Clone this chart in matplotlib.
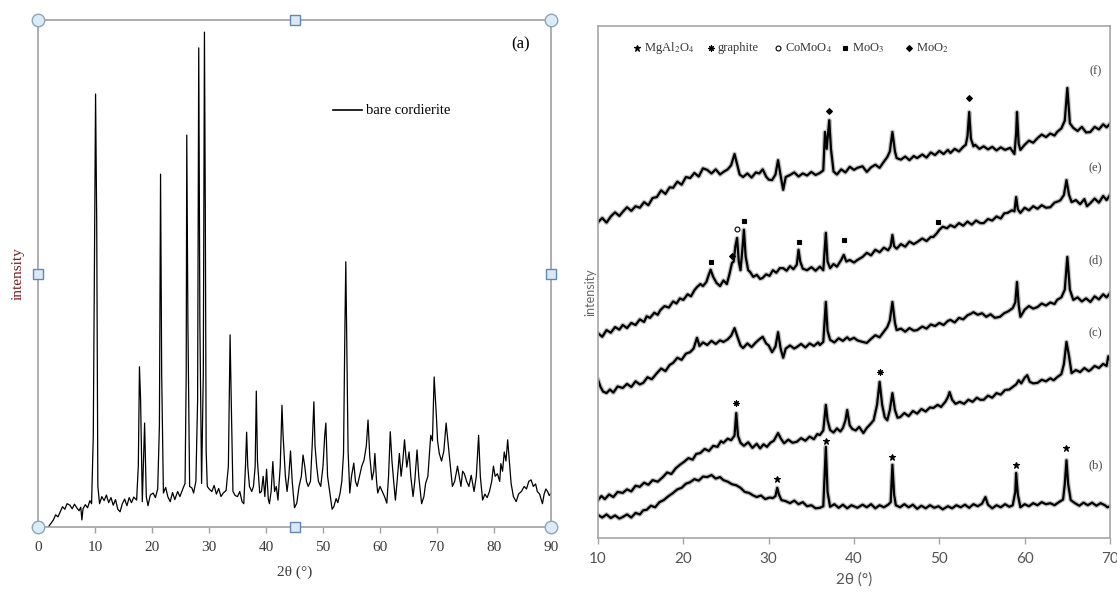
import matplotlib
matplotlib.use("Agg")
import matplotlib.pyplot as plt

# ---- panel (a): bare cordierite, (2theta, intensity) ----
bare_pts = [
    (1.8, 0.0), (2.2, 0.6), (2.7, 1.4), (3.1, 2.4), (3.5, 2.0), (3.9, 3.0), (4.3, 4.0), (4.7, 3.5),
    (5.1, 4.6), (5.6, 4.3), (6.0, 3.6), (6.4, 4.5), (6.8, 3.8), (7.2, 3.2), (7.5, 3.9), (7.7, 1.4),
    (7.9, 3.6), (8.3, 4.4), (8.7, 3.8), (9.1, 5.2), (9.4, 4.6), (9.7, 18.0), (10.1, 85.4), (10.3, 60.0),
    (10.5, 8.0), (10.8, 4.6), (11.2, 6.0), (11.6, 5.2), (12.0, 6.3), (12.4, 4.8), (12.8, 5.8), (13.2, 4.3),
    (13.6, 5.4), (14.0, 3.5), (14.4, 3.0), (14.8, 4.6), (15.2, 5.5), (15.6, 4.2), (16.0, 5.8), (16.4, 4.8),
    (16.8, 5.9), (17.3, 5.3), (17.6, 12.0), (17.8, 31.6), (18.0, 25.0), (18.3, 5.0), (18.7, 20.5),
    (19.0, 6.0), (19.3, 4.2), (19.7, 6.3), (20.2, 6.7), (20.6, 5.8), (21.0, 7.5), (21.3, 20.0),
    (21.5, 69.6), (21.7, 30.0), (22.0, 6.7), (22.4, 7.8), (22.8, 5.9), (23.2, 5.0), (23.6, 6.8),
    (24.0, 5.4), (24.5, 7.0), (24.9, 6.0), (25.4, 7.5), (25.8, 8.6), (26.0, 30.0), (26.1, 77.3),
    (26.3, 40.0), (26.6, 8.0), (27.0, 7.7), (27.3, 6.7), (27.7, 9.0), (28.0, 25.0), (28.2, 94.5),
    (28.4, 40.0), (28.7, 8.6), (29.0, 30.0), (29.2, 97.6), (29.35, 63.0), (29.5, 15.0), (29.7, 8.0),
    (30.1, 7.4), (30.5, 7.0), (30.9, 8.2), (31.3, 6.5), (31.7, 7.6), (32.1, 6.0), (32.5, 6.7),
    (33.0, 7.2), (33.4, 12.0), (33.7, 37.9), (33.9, 25.0), (34.2, 7.0), (34.6, 6.2), (35.0, 6.0),
    (35.4, 7.0), (35.8, 5.0), (36.1, 4.6), (36.4, 12.0), (36.6, 18.7), (36.8, 12.0), (37.1, 8.0),
    (37.5, 7.0), (37.8, 8.0), (38.1, 12.0), (38.3, 26.8), (38.5, 13.0), (38.9, 6.7), (39.2, 7.0),
    (39.5, 10.0), (39.8, 6.0), (40.1, 11.4), (40.4, 5.5), (40.6, 4.6), (40.9, 7.0), (41.2, 12.9),
    (41.5, 7.0), (41.8, 8.0), (42.1, 5.3), (42.5, 12.0), (42.8, 24.0), (43.0, 18.0), (43.4, 10.0),
    (43.7, 7.0), (44.0, 10.0), (44.3, 15.0), (44.6, 9.0), (45.0, 3.8), (45.4, 4.7), (45.8, 8.0),
    (46.2, 10.0), (46.5, 14.2), (46.8, 12.0), (47.1, 9.0), (47.4, 8.0), (47.8, 9.0), (48.1, 16.0),
    (48.4, 24.7), (48.6, 16.0), (48.9, 11.9), (49.2, 9.0), (49.6, 8.0), (50.0, 12.0), (50.3, 18.0),
    (50.5, 20.5), (50.8, 10.0), (51.3, 6.0), (51.6, 3.5), (51.9, 4.0), (52.3, 5.6), (52.6, 4.8),
    (53.0, 6.7), (53.3, 9.0), (53.6, 14.5), (53.85, 40.0), (54.0, 52.3), (54.2, 34.0), (54.4, 15.0),
    (54.7, 6.7), (55.0, 10.0), (55.4, 12.6), (55.7, 9.0), (56.0, 8.0), (56.4, 10.0), (56.8, 12.0),
    (57.2, 13.2), (57.6, 16.0), (57.9, 21.1), (58.2, 14.0), (58.6, 9.3), (58.9, 11.0), (59.1, 14.5),
    (59.4, 9.0), (59.6, 6.7), (60.0, 8.0), (60.4, 7.0), (60.8, 6.0), (61.2, 4.7), (61.5, 10.0),
    (61.8, 18.8), (62.1, 13.0), (62.4, 9.0), (62.7, 5.3), (63.0, 9.0), (63.4, 14.5), (63.7, 10.0),
    (64.0, 13.0), (64.3, 17.2), (64.7, 11.8), (65.1, 14.8), (65.4, 10.0), (65.8, 6.0), (66.1, 9.0),
    (66.5, 15.2), (66.8, 10.0), (67.3, 4.6), (67.7, 6.0), (68.0, 8.6), (68.4, 10.0), (68.9, 18.1),
    (69.2, 17.0), (69.5, 29.6), (69.9, 21.7), (70.1, 17.0), (70.4, 14.5), (70.8, 13.0), (71.2, 15.0),
    (71.6, 20.5), (71.9, 17.0), (72.3, 12.5), (72.7, 8.0), (73.1, 9.0), (73.6, 12.0), (73.9, 10.0),
    (74.2, 8.0), (74.5, 11.0), (74.8, 10.5), (75.2, 9.0), (75.6, 8.0), (76.0, 10.2), (76.5, 7.0),
    (76.9, 10.0), (77.1, 14.0), (77.3, 18.1), (77.6, 10.0), (78.0, 5.3), (78.4, 6.5), (78.8, 5.8),
    (79.2, 7.0), (79.6, 9.0), (79.9, 12.0), (80.2, 10.0), (80.6, 10.5), (81.0, 9.0), (81.2, 12.5),
    (81.5, 11.0), (81.8, 14.8), (82.1, 13.0), (82.4, 17.2), (82.7, 13.0), (83.0, 8.6), (83.4, 6.0),
    (83.9, 5.0), (84.3, 6.5), (84.8, 7.0), (85.3, 8.0), (85.7, 7.5), (86.1, 9.0), (86.5, 9.3),
    (86.9, 8.0), (87.3, 8.5), (87.6, 7.0), (88.0, 6.5), (88.5, 4.6), (88.8, 6.5), (89.1, 7.5),
    (89.4, 7.0), (89.7, 6.2), (90.0, 6.7),
]
left_ticks = [0, 10, 20, 30, 40, 50, 60, 70, 80, 90]

# ---- panel (b)-(f): stacked patterns (offset intensity, a.u.) ----
curve_f = [
    (10.0, 61.7), (10.5, 62.5), (11.0, 61.6), (11.5, 62.8), (12.0, 63.6), (12.5, 62.9), (12.9, 63.7),
    (13.4, 64.6), (13.9, 63.9), (14.4, 64.8), (14.9, 64.5), (15.4, 65.6), (15.9, 65.0), (16.4, 66.4),
    (16.9, 66.6), (17.4, 67.9), (17.9, 67.2), (18.4, 68.5), (18.8, 68.4), (19.3, 69.6), (19.8, 69.0),
    (20.3, 70.5), (20.8, 70.3), (21.3, 71.3), (21.8, 70.6), (22.3, 72.2), (22.8, 71.9), (23.3, 71.2),
    (23.8, 72.0), (24.3, 71.0), (24.7, 71.5), (25.2, 72.0), (25.6, 72.8), (26.0, 75.0), (26.3, 73.0),
    (26.6, 71.0), (27.0, 70.5), (27.5, 71.2), (28.0, 70.4), (28.5, 71.4), (28.9, 71.2), (29.3, 72.0),
    (29.7, 70.6), (30.0, 70.0), (30.4, 69.9), (30.8, 71.0), (31.1, 73.8), (31.4, 70.8), (31.7, 68.0),
    (32.0, 70.5), (32.5, 70.9), (33.0, 71.4), (33.5, 70.6), (34.0, 71.2), (34.5, 70.8), (35.0, 71.5),
    (35.5, 70.9), (36.0, 71.3), (36.4, 71.8), (36.6, 79.3), (36.8, 76.0), (37.1, 81.6), (37.3, 76.0),
    (37.6, 71.6), (38.0, 71.0), (38.5, 72.0), (39.0, 71.4), (39.5, 72.5), (40.0, 71.9), (40.4, 72.3),
    (41.0, 72.6), (41.5, 71.5), (42.0, 72.4), (42.5, 72.9), (43.0, 72.3), (43.5, 73.5), (43.9, 74.4),
    (44.2, 75.5), (44.5, 79.3), (44.8, 75.5), (45.0, 74.2), (45.5, 73.9), (46.0, 74.5), (46.5, 73.8),
    (47.0, 74.6), (47.4, 74.2), (48.0, 74.9), (48.5, 74.3), (49.0, 75.3), (49.5, 74.8), (50.0, 75.6),
    (50.5, 75.0), (51.0, 75.8), (51.3, 75.2), (51.8, 76.0), (52.3, 75.5), (52.8, 76.4), (53.1, 76.8),
    (53.3, 78.5), (53.5, 83.2), (53.7, 78.0), (54.0, 76.5), (54.2, 76.8), (54.7, 76.0), (55.2, 76.5),
    (55.7, 75.9), (56.2, 76.4), (56.7, 75.7), (57.2, 76.3), (57.7, 75.8), (58.3, 76.2), (58.8, 75.0),
    (59.0, 79.0), (59.1, 83.2), (59.3, 77.0), (59.5, 75.8), (60.0, 76.8), (60.5, 77.6), (61.0, 77.2),
    (61.5, 78.1), (62.0, 78.8), (62.5, 78.3), (63.0, 79.0), (63.5, 78.6), (63.8, 79.3), (64.3, 80.0),
    (64.7, 81.5), (65.0, 87.9), (65.3, 81.0), (65.7, 80.1), (66.2, 79.5), (66.7, 80.3), (67.2, 79.2),
    (67.7, 79.3), (68.2, 80.3), (68.7, 79.8), (69.2, 80.8), (69.6, 80.2), (70.0, 80.9),
]
curve_e = [
    (10.0, 40.0), (10.5, 39.3), (11.0, 40.6), (11.5, 40.1), (12.0, 41.2), (12.5, 40.7), (12.9, 41.6),
    (13.4, 41.0), (13.9, 42.0), (14.4, 41.6), (14.9, 42.7), (15.4, 42.2), (15.7, 43.3), (16.1, 43.0),
    (16.6, 44.0), (17.0, 43.6), (17.3, 44.5), (17.8, 45.3), (18.3, 45.0), (18.8, 46.2), (19.2, 45.8),
    (19.6, 46.8), (20.0, 46.5), (20.5, 47.6), (20.9, 47.2), (21.3, 48.4), (21.6, 49.0), (22.0, 49.6),
    (22.3, 49.2), (22.7, 50.0), (23.0, 51.5), (23.2, 52.4), (23.5, 51.0), (23.9, 49.8), (24.3, 49.2),
    (24.7, 50.3), (25.1, 49.6), (25.4, 51.5), (25.7, 53.7), (25.9, 54.0), (26.1, 57.0), (26.3, 58.6),
    (26.5, 54.0), (26.7, 52.3), (26.9, 56.0), (27.1, 60.2), (27.3, 55.0), (27.6, 52.3), (27.8, 52.0),
    (28.2, 51.0), (28.6, 51.4), (29.0, 50.6), (29.3, 50.8), (29.7, 51.5), (30.1, 51.2), (30.5, 52.3),
    (30.9, 51.8), (31.3, 52.7), (31.7, 52.7), (32.1, 52.2), (32.5, 53.1), (32.9, 52.5), (33.3, 53.4),
    (33.5, 56.3), (33.7, 54.0), (34.0, 52.6), (34.5, 52.3), (35.0, 52.9), (35.5, 52.2), (36.0, 53.0),
    (36.4, 52.3), (36.7, 59.6), (36.9, 54.0), (37.2, 52.7), (37.6, 53.5), (38.0, 53.0), (38.5, 54.3),
    (38.8, 55.3), (39.1, 54.0), (39.5, 54.3), (40.0, 53.8), (40.4, 54.3), (41.0, 54.9), (41.5, 55.7),
    (42.0, 55.2), (42.5, 56.3), (43.0, 55.8), (43.5, 56.7), (44.0, 56.2), (44.3, 57.0), (44.5, 59.2),
    (44.7, 57.0), (45.0, 56.5), (45.5, 57.4), (46.0, 56.9), (46.5, 57.9), (47.0, 57.4), (47.4, 57.8),
    (48.0, 58.5), (48.5, 58.0), (49.0, 58.8), (49.3, 58.8), (49.7, 59.5), (50.0, 60.2), (50.4, 60.8),
    (50.9, 60.5), (51.3, 61.1), (51.8, 60.7), (52.3, 61.5), (52.8, 61.0), (53.3, 61.8), (53.8, 61.2),
    (54.3, 62.0), (54.8, 61.5), (55.2, 61.5), (55.7, 62.3), (56.2, 62.0), (56.7, 62.8), (57.2, 62.4),
    (57.6, 63.4), (58.0, 63.5), (58.5, 64.0), (58.8, 63.8), (59.0, 66.6), (59.2, 64.2), (59.5, 63.5),
    (60.0, 64.5), (60.5, 64.0), (61.0, 64.8), (61.5, 64.3), (62.0, 65.0), (62.5, 64.5), (63.0, 64.6),
    (63.5, 65.5), (64.0, 65.8), (64.2, 66.0), (64.6, 67.0), (64.9, 69.9), (65.2, 67.0), (65.5, 65.6),
    (66.0, 66.0), (66.5, 65.2), (67.0, 66.2), (67.3, 64.8), (67.7, 65.4), (68.2, 66.3), (68.7, 65.5),
    (69.2, 66.8), (69.6, 66.0), (70.0, 67.0),
]
curve_d = [
    (10.0, 30.9), (10.3, 29.5), (10.6, 28.6), (11.0, 28.3), (11.4, 29.0), (11.8, 28.4), (12.3, 29.6),
    (12.9, 29.3), (13.4, 30.1), (13.9, 29.5), (14.4, 30.6), (14.9, 30.0), (15.3, 30.3), (15.8, 31.4),
    (16.3, 31.0), (16.9, 32.2), (17.4, 33.1), (17.9, 32.6), (18.4, 33.8), (18.8, 34.2), (19.3, 35.2),
    (19.8, 34.8), (20.3, 36.0), (20.8, 36.3), (21.2, 37.0), (21.6, 39.1), (21.9, 37.5), (22.3, 38.2),
    (22.8, 37.7), (23.3, 38.5), (23.8, 37.9), (24.3, 38.6), (24.7, 38.3), (25.2, 38.8), (25.6, 39.5),
    (26.0, 41.0), (26.3, 39.5), (26.7, 37.6), (27.0, 37.1), (27.5, 38.0), (28.0, 37.3), (28.5, 38.2),
    (28.9, 38.8), (29.3, 39.3), (29.7, 38.0), (30.0, 37.6), (30.4, 36.3), (30.8, 37.4), (31.1, 40.2),
    (31.4, 37.0), (31.7, 35.2), (32.0, 37.0), (32.5, 37.6), (33.0, 37.0), (33.3, 37.3), (33.8, 37.9),
    (34.3, 37.2), (34.8, 38.0), (35.3, 37.5), (35.8, 38.2), (36.0, 37.7), (36.4, 38.3), (36.7, 46.1),
    (36.9, 40.5), (37.2, 38.7), (37.7, 38.2), (38.2, 39.0), (38.7, 38.5), (39.2, 39.2), (39.5, 38.7),
    (40.0, 39.1), (40.4, 38.6), (41.0, 38.3), (41.5, 38.1), (42.0, 38.9), (42.5, 39.6), (43.0, 39.2),
    (43.5, 40.3), (43.9, 41.2), (44.2, 42.5), (44.5, 46.1), (44.8, 42.0), (45.0, 40.6), (45.5, 40.9),
    (46.0, 40.3), (46.5, 41.0), (47.0, 40.5), (47.4, 40.6), (48.0, 41.3), (48.5, 40.9), (49.0, 41.7),
    (49.5, 41.4), (50.0, 42.0), (50.5, 41.6), (51.0, 42.4), (51.3, 42.6), (51.8, 42.1), (52.3, 43.0),
    (52.8, 42.7), (53.3, 43.5), (53.7, 43.8), (54.0, 44.1), (54.5, 43.6), (55.0, 43.9), (55.5, 43.2),
    (56.0, 43.7), (56.5, 43.0), (57.1, 43.2), (57.6, 43.9), (58.1, 44.3), (58.6, 44.9), (58.9, 46.0),
    (59.1, 50.0), (59.3, 45.5), (59.5, 43.2), (60.0, 44.6), (60.5, 45.3), (61.0, 44.8), (61.5, 45.1),
    (62.0, 45.8), (62.5, 45.4), (63.0, 46.0), (63.5, 45.7), (63.8, 46.5), (64.3, 47.0), (64.7, 48.5),
    (65.0, 54.9), (65.3, 48.5), (65.7, 46.5), (66.2, 47.0), (66.7, 46.2), (67.2, 46.8), (67.7, 46.1),
    (68.2, 47.2), (68.7, 46.6), (69.2, 47.6), (69.6, 47.0), (70.0, 47.8),
]
curve_c = [
    (10.0, 7.4), (10.4, 8.2), (10.8, 7.6), (11.3, 8.5), (11.8, 8.0), (12.3, 9.0), (12.9, 8.8),
    (13.4, 9.5), (13.9, 9.1), (14.4, 10.2), (14.9, 10.0), (15.4, 10.8), (15.9, 10.4), (16.4, 11.3),
    (17.0, 11.0), (17.6, 11.9), (18.1, 12.8), (18.6, 12.5), (19.1, 13.6), (19.6, 14.3), (20.1, 14.9),
    (20.6, 15.6), (21.1, 15.3), (21.5, 16.4), (22.0, 16.6), (22.5, 17.4), (23.0, 17.0), (23.5, 18.0),
    (24.0, 17.8), (24.4, 18.9), (24.7, 18.6), (25.2, 19.4), (25.6, 19.1), (26.0, 20.0), (26.2, 24.4),
    (26.4, 20.0), (26.7, 18.6), (27.1, 18.0), (27.6, 18.7), (28.1, 17.6), (28.6, 18.4), (29.0, 17.5),
    (29.4, 18.3), (29.8, 17.8), (30.2, 18.6), (30.6, 19.0), (31.1, 20.5), (31.4, 19.5), (31.8, 18.5),
    (32.3, 19.2), (32.8, 18.6), (33.3, 18.8), (33.8, 19.5), (34.3, 19.0), (34.8, 19.8), (35.3, 19.3),
    (35.7, 20.3), (36.0, 20.1), (36.4, 21.0), (36.7, 26.0), (36.9, 23.0), (37.2, 21.1), (37.6, 20.6),
    (38.0, 21.4), (38.4, 20.8), (38.7, 21.5), (39.0, 23.0), (39.2, 25.0), (39.5, 22.0), (39.8, 21.3),
    (40.2, 21.0), (40.6, 21.7), (41.1, 20.5), (41.5, 21.5), (41.9, 22.2), (42.3, 23.0), (42.7, 26.0),
    (43.0, 30.5), (43.3, 26.0), (43.6, 23.6), (43.9, 23.0), (44.2, 25.0), (44.5, 28.3), (44.8, 25.0),
    (45.1, 23.5), (45.4, 23.6), (45.9, 24.4), (46.4, 23.8), (46.9, 24.8), (47.4, 24.3), (47.9, 25.2),
    (48.4, 24.7), (48.9, 25.5), (49.3, 25.4), (49.8, 26.0), (50.2, 25.6), (50.7, 26.6), (51.0, 27.5),
    (51.2, 28.5), (51.5, 27.0), (51.9, 26.2), (52.4, 26.6), (52.9, 26.2), (53.4, 27.0), (53.9, 26.6),
    (54.4, 27.4), (54.8, 27.0), (55.2, 27.0), (55.7, 27.8), (56.2, 27.4), (56.7, 28.3), (57.2, 28.0),
    (57.7, 28.9), (58.2, 29.0), (58.6, 29.5), (59.0, 30.0), (59.3, 30.8), (59.6, 30.2), (60.0, 31.3),
    (60.3, 31.8), (60.6, 30.5), (61.0, 30.2), (61.5, 30.3), (62.0, 30.9), (62.5, 30.6), (63.0, 31.2),
    (63.4, 30.8), (63.8, 31.4), (64.3, 32.0), (64.6, 34.0), (64.9, 38.3), (65.2, 35.5), (65.5, 32.2),
    (66.0, 32.8), (66.5, 32.4), (67.0, 33.2), (67.5, 32.6), (67.7, 32.8), (68.2, 33.6), (68.7, 33.2),
    (69.2, 34.0), (69.6, 33.6), (69.8, 35.5), (70.0, 34.8),
]
curve_b = [
    (10.0, 4.5), (10.5, 4.0), (11.0, 4.6), (11.5, 3.9), (12.0, 4.4), (12.5, 3.8), (12.9, 4.1),
    (13.4, 4.6), (13.9, 4.0), (14.4, 4.9), (14.9, 4.6), (15.3, 5.4), (15.7, 5.5), (16.2, 6.3),
    (16.7, 6.0), (17.2, 7.0), (17.7, 7.4), (18.2, 8.1), (18.8, 8.8), (19.3, 9.5), (19.8, 9.8),
    (20.3, 10.6), (20.8, 10.9), (21.3, 11.5), (21.8, 11.2), (22.3, 12.0), (22.8, 11.9), (23.3, 12.3),
    (23.8, 11.6), (24.3, 11.9), (24.7, 11.3), (25.2, 11.0), (25.7, 10.5), (26.2, 10.3), (26.7, 9.8),
    (27.2, 9.0), (27.7, 8.8), (28.2, 8.3), (28.6, 8.0), (29.1, 8.3), (29.6, 7.6), (30.1, 7.9),
    (30.5, 7.8), (30.8, 8.2), (31.0, 9.8), (31.2, 8.5), (31.5, 7.4), (32.0, 7.2), (32.5, 6.8),
    (33.0, 7.3), (33.5, 6.6), (34.0, 7.0), (34.5, 6.2), (35.0, 6.4), (35.5, 5.8), (36.0, 5.9),
    (36.4, 6.2), (36.7, 17.8), (36.9, 9.0), (37.2, 6.1), (37.7, 6.6), (38.2, 5.9), (38.7, 6.5),
    (39.2, 5.8), (39.7, 6.4), (40.4, 5.9), (41.0, 6.5), (41.5, 6.0), (42.0, 6.6), (42.5, 5.8),
    (43.0, 6.4), (43.5, 6.0), (44.0, 6.5), (44.3, 7.0), (44.5, 14.3), (44.7, 8.5), (44.9, 6.4),
    (45.4, 6.0), (45.9, 6.6), (46.4, 6.0), (46.9, 6.5), (47.4, 5.7), (47.9, 6.3), (48.4, 5.8),
    (48.9, 6.4), (49.4, 5.9), (49.9, 6.2), (50.4, 5.6), (51.0, 6.2), (51.5, 5.8), (52.0, 6.4),
    (52.5, 6.0), (53.0, 6.5), (53.5, 5.9), (54.0, 6.6), (54.5, 6.2), (55.0, 6.7), (55.4, 8.0),
    (55.7, 6.5), (56.2, 5.8), (56.7, 6.4), (57.2, 6.0), (57.7, 6.6), (58.2, 6.1), (58.6, 6.4),
    (58.9, 9.0), (59.0, 12.7), (59.2, 8.5), (59.5, 6.0), (60.0, 6.6), (60.5, 6.2), (61.0, 6.8),
    (61.5, 6.4), (62.0, 7.0), (62.5, 6.6), (63.0, 6.8), (63.5, 6.4), (64.0, 7.0), (64.5, 7.5),
    (64.7, 10.5), (64.9, 15.2), (65.1, 10.5), (65.4, 7.4), (65.9, 6.8), (66.4, 6.3), (66.9, 6.9),
    (67.4, 6.4), (67.9, 6.9), (68.4, 6.3), (68.9, 6.8), (69.4, 6.4), (69.7, 6.0), (70.0, 6.2),
]
curves = [curve_f, curve_e, curve_d, curve_c, curve_b]
curve_labels = ["(f)", "(e)", "(d)", "(c)", "(b)"]
label_y = [91.2, 72.3, 54.3, 40.0, 14.3]
right_ticks = [10, 20, 30, 40, 50, 60, 70]

# phase markers above peaks: (2theta, intensity)
mgal2o4_marks = [(31.0, 11.5), (36.7, 19.0), (44.5, 15.8), (59.0, 14.3), (64.9, 17.6)]
graphite_marks = [(26.2, 26.4), (43.0, 32.4)]
comoo4_marks = [(26.3, 60.4)]
moo3_marks = [(23.2, 53.9), (27.1, 61.9), (33.5, 57.8), (38.8, 58.2), (49.9, 61.7)]
moo2_marks = [(25.7, 55.0), (37.1, 83.4), (53.5, 85.9)]

phase_names = ["MgAl$_2$O$_4$", "graphite", "CoMoO$_4$", "MoO$_3$", "MoO$_2$"]
phase_style = [("*", 4.5, "k"), ((8, 2, 0), 4.5, "k"), ("o", 3.5, "none"), ("s", 3.5, "k"), ("D", 3, "k")]
phase_marks = [mgal2o4_marks, graphite_marks, comoo4_marks, moo3_marks, moo2_marks]
legend_x = [14.6, 23.25, 31.1, 38.96, 46.46]

plt.rcParams["mathtext.fontset"] = "stix"
serif = ["Liberation Serif", "DejaVu Serif"]
sans = ["Lato", "DejaVu Sans"]
W, H = 1117, 594
fig = plt.figure(figsize=(W / 100, H / 100), dpi=100)

# ---------- left panel ----------
ax1 = fig.add_axes([38 / W, (H - 527) / H, 513 / W, 507 / H])
bx, by = zip(*bare_pts)
ax1.plot(bx, by, color="black", lw=0.9)
ax1.set_xlim(0, 90)
ax1.set_ylim(0, 100)
ax1.set_yticks([])
ax1.set_xticks(left_ticks)
ax1.set_xticklabels([str(t) for t in left_ticks], family=serif, fontsize=11, color="#3a3a3a")
ax1.tick_params(axis="x", direction="out", length=4, width=1, color="#a0a0a0", pad=6)
for s in ax1.spines.values():
    s.set_color("#a0a0a0")
    s.set_linewidth(1.2)
ax1.set_xlabel("2θ (°)", family=serif, fontsize=11, color="#3a3a3a")
ax1.xaxis.set_label_coords(0.5, -0.075)
ax1.set_ylabel("intensity", family=serif, fontsize=11, color="#7a1f1f")
ax1.yaxis.set_label_coords(-0.026, 0.5)
ax1.text(84.7, 95.1, "(a)", family=serif, fontsize=12, ha="center", va="center")
ax1.plot([51.75, 56.8], [82.2, 82.2], color="black", lw=1.2)
ax1.text(57.5, 82.2, "bare cordierite", family=serif, fontsize=10.5, ha="left", va="center")

# selection handles on the frame
for cx, cy in [(0, 0), (1, 0), (0, 1), (1, 1)]:
    ax1.plot(cx, cy, "o", ms=9, mfc="#dcecf4", mec="#8aa6bd", mew=1, transform=ax1.transAxes,
             clip_on=False, zorder=6)
for cx, cy in [(0.5, 0), (0.5, 1), (0, 0.5), (1, 0.5)]:
    ax1.plot(cx, cy, "s", ms=7, mfc="#dce9f5", mec="#5f88b5", mew=1, transform=ax1.transAxes,
             clip_on=False, zorder=6)

# ---------- right panel ----------
ax2 = fig.add_axes([598 / W, (H - 538) / H, 512 / W, 512 / H])
for pts in curves:
    cx_, cy_ = zip(*pts)
    # soft grey halo, the scanned traces look fuzzy
    ax2.plot(cx_, cy_, color="#9a9a9a", lw=3.4, alpha=0.6, solid_joinstyle="round")
    ax2.plot(cx_, cy_, color="black", lw=1.6)
for lab, ly in zip(curve_labels, label_y):
    ax2.text(68.3, ly, lab, family=serif, fontsize=9, color="#444444", ha="center", va="center")
for marks, (mk, ms, fc) in zip(phase_marks, phase_style):
    px_, py_ = zip(*marks)
    ax2.plot(px_, py_, ls="none", marker=mk, ms=ms, mfc=fc, mec="k", mew=0.8)
for name, lx, (mk, ms, fc) in zip(phase_names, legend_x, phase_style):
    ax2.plot(lx, 95.7, marker=mk, ms=ms, mfc=fc, mec="k", mew=0.8)
    ax2.text(lx + 0.8, 95.7, name, family=serif, fontsize=9, color="#333333", ha="left", va="center")
ax2.set_xlim(10, 70)
ax2.set_ylim(0, 100)
ax2.set_yticks([])
ax2.set_xticks(right_ticks)
ax2.set_xticklabels([str(t) for t in right_ticks], family=sans, fontsize=11, color="#555555")
ax2.tick_params(axis="x", direction="out", length=4, width=1, color="#a6a6a6", pad=6)
for s in ax2.spines.values():
    s.set_color("#a6a6a6")
    s.set_linewidth(1.2)
ax2.set_xlabel("2θ (°)", family=sans, fontsize=11, color="#555555")
ax2.xaxis.set_label_coords(0.5, -0.068)
ax2.set_ylabel("intensity", family=sans, fontsize=9, color="#666666")
ax2.yaxis.set_label_coords(-0.004, 0.48)

fig.savefig("out.png", dpi=100)
